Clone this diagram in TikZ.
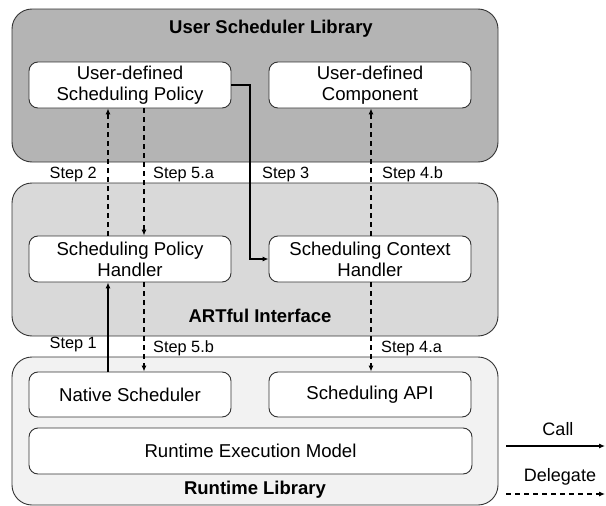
\documentclass[tikz,border=0pt]{standalone}
\usepackage{fontspec}
\setmainfont{Liberation Sans}
\usetikzlibrary{arrows.meta}
\definecolor{usrgray}{HTML}{B4B4B4}
\definecolor{artgray}{HTML}{D9D9D9}
\definecolor{rtgray}{HTML}{F2F2F2}
\begin{document}
\begin{tikzpicture}[x=1pt,y=-1pt,
  layer/.style={draw=black!80, line width=0.9pt, rounded corners=20pt, minimum width=486pt, inner sep=0pt},
  comp/.style={draw=black!80, fill=white, line width=0.9pt, rounded corners=9pt, minimum height=46pt, inner sep=0pt, align=center, font=\fontsize{18.6}{21}\selectfont},
  ttl/.style={font=\bfseries\fontsize{18.5}{21}\selectfont},
  steplbl/.style={font=\fontsize{16.3}{19}\selectfont, inner sep=0pt},
  leglbl/.style={font=\fontsize{18}{21}\selectfont, inner sep=0pt},
  call/.style={line width=1.1pt, -{Latex[length=6pt,width=5pt]}},
  delegate/.style={line width=1.1pt, dash pattern=on 5pt off 4pt, -{Latex[length=6pt,width=5pt]}}
]
\useasboundingbox (0,0) rectangle (606,506);
% layers
\node[layer, fill=usrgray, minimum height=153pt] (usl) at (255,85.5) {};
\node[layer, fill=artgray, minimum height=153pt] (art) at (255,259.5) {};
\node[layer, fill=rtgray, minimum height=148pt] (rl) at (255,431) {};
\node[ttl] (uslt) at (271,29) {User Scheduler Library};
\node[ttl] (artt) at (260,316) {ARTful Interface};
\node[ttl] (rlt) at (255,490) {Runtime Library};
% components
\node[comp, minimum width=202pt] (udsp) at (130,85) {User-defined\\Scheduling Policy};
\node[comp, minimum width=202pt] (udc) at (370,85) {User-defined\\Component};
\node[comp, minimum width=202pt] (sph) at (130,259) {Scheduling Policy\\Handler};
\node[comp, minimum width=202pt] (sch) at (370,259) {Scheduling Context\\Handler};
\node[comp, minimum width=202pt, minimum height=45pt] (ns) at (130,394.5) {Native Scheduler};
\node[comp, minimum width=202pt, minimum height=45pt] (api) at (370,394.5) {Scheduling API};
\node[comp, minimum width=443pt] (rem) at (250.5,451) {Runtime Execution Model};
% columns
\coordinate (c2) at (108,0);
\coordinate (c5) at (144,0);
\coordinate (c3) at (250,0);
\coordinate (c4) at (371,0);
% connectors
\draw[delegate] (sph.north -| c2) -- (udsp.south -| c2);
\draw[delegate] (udsp.south -| c5) -- (sph.north -| c5);
\draw[call] (udsp.east) -| (c3 |- sch.west) -- (sch.west);
\draw[delegate] (sch.north -| c4) -- (udc.south -| c4);
\draw[call] (ns.north -| c2) -- (sph.south -| c2);
\draw[delegate] (sph.south -| c5) -- (ns.north -| c5);
\draw[delegate] (sch.south -| c4) -- (api.north -| c4);
% step labels
\node[steplbl, anchor=east] (s2) at (97,174) {Step 2};
\node[steplbl, anchor=west] (s5a) at (153,174) {Step 5.a};
\node[steplbl, anchor=west] (s3) at (262,174) {Step 3};
\node[steplbl, anchor=west] (s4b) at (382,174) {Step 4.b};
\node[steplbl, anchor=east] (s1) at (97,344) {Step 1};
\node[steplbl, anchor=west] (s5b) at (153,348) {Step 5.b};
\node[steplbl, anchor=west] (s4a) at (381,348) {Step 4.a};
% legend
\node[leglbl] (lcall) at (558,429) {Call};
\node[leglbl] (ldel) at (560,477) {Delegate};
\coordinate (la1) at (506,446);
\coordinate (la2) at (605,446);
\coordinate (lb1) at (506,494);
\coordinate (lb2) at (605,494);
\draw[call] (la1) -- (la2);
\draw[delegate] (lb1) -- (lb2);
\end{tikzpicture}
\end{document}
